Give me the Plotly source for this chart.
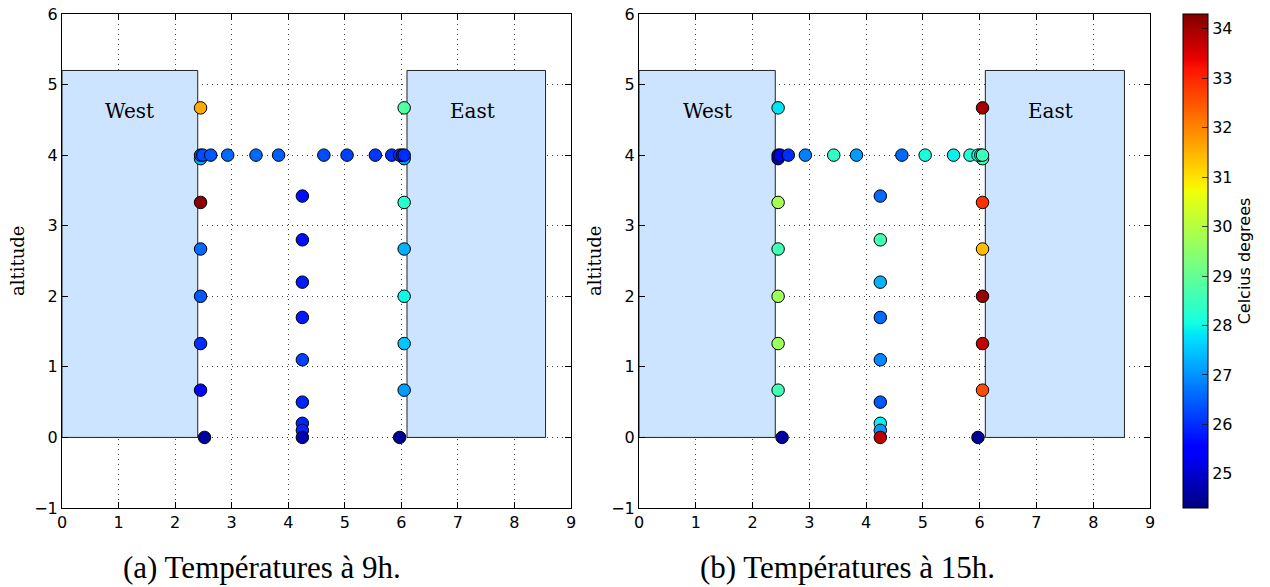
import numpy as np
import plotly.graph_objects as go

# ---------------- data ----------------
# point positions (x, altitude)
px = [2.45, 6.05,
      2.45, 2.49, 2.63, 2.93, 3.43, 3.83, 4.63, 5.04, 5.54, 5.83, 5.97, 6.02, 6.05,
      2.45, 2.45, 2.45, 2.45, 2.45, 2.45, 2.52,
      6.05, 6.05, 6.05, 6.05, 6.05, 6.05, 5.97,
      4.25, 4.25, 4.25, 4.25, 4.25, 4.25, 4.25, 4.25, 4.25]
py = [3.95, 3.95,
      4.0, 4.0, 4.0, 4.0, 4.0, 4.0, 4.0, 4.0, 4.0, 4.0, 4.0, 4.0, 4.0,
      4.67, 3.33, 2.67, 2.0, 1.33, 0.67, 0.0,
      4.67, 3.33, 2.67, 2.0, 1.33, 0.67, 0.0,
      3.42, 2.8, 2.2, 1.7, 1.1, 0.5, 0.2, 0.1, 0.0]
# temperatures at 9h
temp_9h = [27.3, 27.1,
           26.3, 26.3, 26.4, 26.6, 26.6, 26.5, 26.3, 26.2, 26.1, 26.0, 26.0, 25.9, 26.0,
           31.6, 34.2, 26.6, 26.4, 26.0, 25.6, 24.6,
           28.8, 28.3, 27.3, 28.0, 27.5, 27.1, 24.5,
           25.7, 25.7, 25.8, 25.8, 26.2, 25.9, 25.9, 25.9, 24.7]
# temperatures at 15h
temp_15h = [24.8, 28.6,
            25.0, 25.3, 26.0, 26.8, 28.4, 27.1, 26.6, 28.1, 27.9, 28.2, 28.0, 28.3, 28.5,
            27.8, 29.8, 28.6, 29.7, 29.7, 28.6, 24.6,
            34.0, 32.9, 31.4, 34.1, 33.7, 32.6, 24.5,
            26.6, 28.6, 27.3, 26.6, 26.9, 26.4, 27.9, 27.1, 33.8]

# buildings: name, x0, x1, top, label position
bld_names = ["West", "East"]
bld_x0 = [0.0, 6.1]
bld_x1 = [2.4, 8.55]
bld_top = [5.2, 5.2]
bld_label_x = [1.2, 7.25]
bld_label_y = [4.62, 4.62]

captions = ["(a) Températures à 9h.", "(b) Températures à 15h."]
x_ticks = list(range(0, 10))
y_ticks = list(range(-1, 7))
cb_ticks = list(range(25, 35))
cmin, cmax = 24.31, 34.30

# ---------------- matplotlib 'jet' colorscale ----------------
stops = [0, 0.11, 0.125, 0.34, 0.35, 0.375, 0.64, 0.65, 0.66, 0.89, 0.91, 1]
r = np.interp(stops, [0, 0.35, 0.66, 0.89, 1], [0, 0, 1, 1, 0.5])
g = np.interp(stops, [0, 0.125, 0.375, 0.64, 0.91, 1], [0, 0, 1, 1, 0, 0])
b = np.interp(stops, [0, 0.11, 0.34, 0.65, 1], [0.5, 1, 1, 0, 0])
jet = [[s, f"rgb({int(round(rr*255))},{int(round(gg*255))},{int(round(bb*255))})"]
       for s, rr, gg, bb in zip(stops, r, g, b)]

W, H = 1270, 587
fig = go.Figure()

panels = [
    dict(xa="x", ya="y", temps=temp_9h, dom=[62 / W, 571 / W]),
    dict(xa="x2", ya="y2", temps=temp_15h, dom=[639 / W, 1150 / W]),
]
ydom = [(H - 508) / H, (H - 14) / H]

axis_common = dict(
    showline=True, linecolor="black", linewidth=1, mirror="ticks",
    ticks="inside", ticklen=6, tickcolor="black", automargin=False,
    showgrid=True, gridcolor="rgba(0,0,0,0.75)", gridwidth=1, griddash="1px,4px",
    zeroline=False, tickfont=dict(family="DejaVu Sans", size=16, color="black"),
)

for i, p in enumerate(panels):
    fig.add_trace(go.Scatter(
        x=px, y=py, mode="markers", xaxis=p["xa"], yaxis=p["ya"],
        marker=dict(size=12.5, color=p["temps"], coloraxis="coloraxis",
                    line=dict(color="black", width=1)),
        showlegend=False, hoverinfo="x+y+text", text=[f"{t} °C" for t in p["temps"]],
    ))
    sfx = "" if i == 0 else "2"
    fig.update_layout(**{
        f"xaxis{sfx}": dict(domain=p["dom"], range=[0, 9], tickvals=x_ticks,
                            anchor=f"y{sfx}", **axis_common),
        f"yaxis{sfx}": dict(domain=ydom, range=[-1, 6], tickvals=y_ticks,
                            anchor=f"x{sfx}", **axis_common),
    })
    for nm, x0, x1, top, lx, ly in zip(bld_names, bld_x0, bld_x1, bld_top, bld_label_x, bld_label_y):
        fig.add_shape(type="rect", xref=p["xa"], yref=p["ya"], x0=x0, x1=x1, y0=0, y1=top,
                      fillcolor="rgb(204,228,255)", line=dict(color="#222", width=1),
                      layer="between")
        fig.add_annotation(x=lx, y=ly, xref=p["xa"], yref=p["ya"], text=nm, showarrow=False,
                           font=dict(family="DejaVu Serif", size=20, color="black"))
    # y-axis label
    lab_x = [17, 594][i]
    fig.add_annotation(x=lab_x / W, y=(H - 261) / H, xref="paper", yref="paper",
                       xanchor="center", yanchor="middle",
                       text="altitude", textangle=-90, showarrow=False,
                       font=dict(family="DejaVu Serif", size=18, color="black"))
    # caption
    cap_x = [262, 847][i]
    fig.add_annotation(x=cap_x / W, y=(H - 567) / H, xref="paper", yref="paper",
                       xanchor="center", yanchor="middle",
                       text=captions[i], showarrow=False,
                       font=dict(family="Liberation Serif", size=31, color="black"))

fig.update_layout(
    width=W, height=H, margin=dict(l=0, r=0, t=0, b=0, autoexpand=False),
    paper_bgcolor="white", plot_bgcolor="white", showlegend=False,
    coloraxis=dict(
        colorscale=jet, cmin=cmin, cmax=cmax,
        colorbar=dict(
            x=1183 / W, xanchor="left", y=(H - 261) / H, yanchor="middle",
            len=494 / H, lenmode="fraction", thickness=25, xpad=0, ypad=0,
            outlinecolor="black", outlinewidth=1,
            ticks="inside", ticklen=6, tickcolor="rgba(0,0,0,0.7)", tickvals=cb_ticks,
            tickfont=dict(family="DejaVu Sans", size=16, color="black"),
            title=dict(text="Celcius degrees", side="right",
                       font=dict(family="DejaVu Sans", size=16, color="black")),
        ),
    ),
)

fig.write_html("out.html", config={"displayModeBar": False},
               post_script="document.body.style.margin='0';document.body.style.padding='0';")
